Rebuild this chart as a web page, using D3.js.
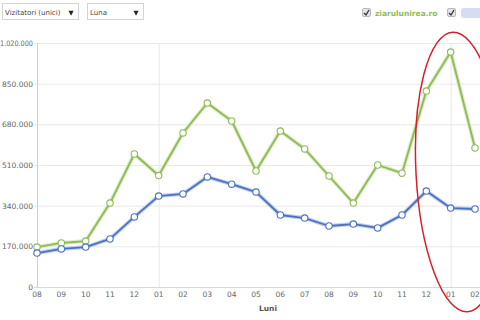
<!DOCTYPE html>
<html><head><meta charset="utf-8">
<script src="https://cdn.jsdelivr.net/npm/d3@7/dist/d3.min.js"></script>
<style>
body{margin:0;background:#fff;font-family:"DejaVu Sans",Verdana,sans-serif;}
svg{display:block;}
</style></head><body>
<svg id="c" width="480" height="320"></svg>
<script>
const months = ["08","09","10","11","12","01","02","03","04","05","06","07","08","09","10","11","12","01","02"];
const seriesNames = ["ziarulunirea.ro", "alt site"];
const greenValues = [167000,184000,192000,351000,556000,466000,644000,769000,694000,485000,652000,577000,464000,351000,510000,476000,819000,982000,581000];
const blueValues = [142000,159000,167000,201000,293000,380000,389000,460000,430000,397000,301000,288000,255000,263000,247000,301000,401000,330000,326000];
const yTicks = [0,170000,340000,510000,680000,850000,1020000];
const xTitle = "Luni";
const selectLabels = ["Vizitatori (unici)", "Luna"];

const svg = d3.select("#c");
const x = d3.scaleLinear().domain([0, months.length-1]).range([37, 475]);
const y = d3.scaleLinear().domain([0,1020000]).range([287, 43]);
const fmt = v => d3.format(",")(v).replace(/,/g, ".");

// horizontal grid
svg.append("g").selectAll("line").data(yTicks).join("line")
  .attr("x1", 34).attr("x2", 480).attr("y1", d=>y(d)+0.5).attr("y2", d=>y(d)+0.5)
  .attr("stroke", d=> d===0 ? "#d8d8d8" : "#e8e8e8").attr("stroke-width",1);
// vertical grid at January
svg.append("g").selectAll("line").data(months.map((m,i)=>({m,i})).filter(d=>d.m==="01")).join("line")
  .attr("x1", d=>x(d.i)+0.5).attr("x2", d=>x(d.i)+0.5).attr("y1", 43).attr("y2", 287)
  .attr("stroke","#e8e8e8");
// y axis line
svg.append("line").attr("x1",37.5).attr("x2",37.5).attr("y1",43).attr("y2",287).attr("stroke","#d0d0d0");

// y labels
svg.append("g").selectAll("text").data(yTicks).join("text")
  .attr("x", d => d===1020000 ? 0 : 33).attr("y", d=>y(d)+3)
  .attr("text-anchor", d => d===1020000 ? "start" : "end")
  .attr("font-size", 7.5).attr("fill","#666")
  .each(function(d){ if(d===1020000){ d3.select(this).attr("textLength",33).attr("lengthAdjust","spacingAndGlyphs"); } })
  .text(d=>fmt(d));
// x labels
svg.append("g").selectAll("text").data(months).join("text")
  .attr("x", (d,i)=>x(i)).attr("y", 297).attr("text-anchor","middle")
  .attr("font-size", 7.5).attr("fill","#666").text(d=>d);
svg.append("text").attr("x",268).attr("y",311).attr("text-anchor","middle")
  .attr("font-size",7.5).attr("font-weight","bold").attr("fill","#555").text(xTitle);

// series
const line = d3.line().x((d,i)=>x(i)).y(d=>y(d));
function drawSeries(vals, color, halo){
  svg.append("path").datum(vals).attr("d", line).attr("fill","none")
    .attr("stroke", halo).attr("stroke-width",4).attr("stroke-linejoin","round");
  svg.append("path").datum(vals).attr("d", line).attr("fill","none")
    .attr("stroke", color).attr("stroke-width",1.8).attr("stroke-linejoin","round");
  svg.append("g").selectAll("circle").data(vals).join("circle")
    .attr("cx",(d,i)=>x(i)).attr("cy",d=>y(d)).attr("r",3.2)
    .attr("fill","#fff").attr("stroke",color).attr("stroke-width",1.1);
}
drawSeries(greenValues, "#8fbb55", "#dcebc6");
drawSeries(blueValues, "#4a72c2", "#c3d0ec");

// annotation ellipse
svg.append("ellipse").attr("cx",460).attr("cy",172).attr("rx",44).attr("ry",140)
  .attr("transform","rotate(-3,460,172)")
  .attr("fill","none").attr("stroke","#d8202a").attr("stroke-width",1.5);

// top controls
const sel = svg.append("g");
[[2,76,selectLabels[0]],[87,56,selectLabels[1]]].forEach(([sx,w,t])=>{
  sel.append("rect").attr("x",sx+0.5).attr("y",3.5).attr("width",w).attr("height",16)
    .attr("fill","#fff").attr("stroke","#d4d4d4");
  sel.append("text").attr("x",sx+3).attr("y",14.5).attr("font-size",7).attr("fill","#444").text(t);
  sel.append("text").attr("x",sx+w-7).attr("y",14.5).attr("text-anchor","middle")
    .attr("font-size",6.5).attr("fill","#222").text("▼");
});
// checkboxes
[[362],[447]].forEach(([cx])=>{
  sel.append("rect").attr("x",cx+0.5).attr("y",8.5).attr("width",8).attr("height",8).attr("rx",1.5)
    .attr("fill","#e4e4e4").attr("stroke","#b8b8b8");
  sel.append("path").attr("d",`M${cx+2},${13} l2,2 l3,-5`).attr("fill","none")
    .attr("stroke","#333").attr("stroke-width",1.3);
});
sel.append("text").attr("x",375).attr("y",16).attr("font-size",7.5).attr("font-weight","bold")
  .attr("fill","#8fbb55").text(seriesNames[0]);
sel.append("rect").attr("x",461).attr("y",8).attr("width",22).attr("height",10).attr("rx",3)
  .attr("fill","#c9d4ee").attr("opacity",0.8);
</script>
</body></html>
